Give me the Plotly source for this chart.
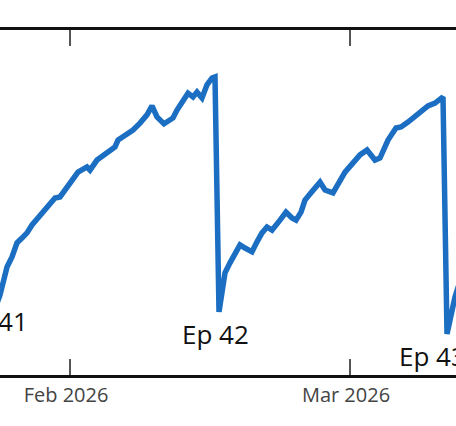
import plotly.graph_objects as go

# Timestamps and values (arbitrary 0-100 scale)
times = [
    "2026-01-24 10:00", "2026-01-24 17:00",
    "2026-01-25 00:00", "2026-01-25 07:12", "2026-01-25 16:48", "2026-01-26 04:48",
    "2026-01-26 16:48", "2026-01-27 04:48", "2026-01-27 16:48", "2026-01-28 04:48",
    "2026-01-29 00:00", "2026-01-29 12:00", "2026-01-30 00:00", "2026-01-30 12:00",
    "2026-01-31 00:00", "2026-01-31 16:48", "2026-02-01 04:48", "2026-02-01 19:12",
    "2026-02-02 16:48", "2026-02-03 00:00", "2026-02-03 16:48", "2026-02-04 16:48",
    "2026-02-05 12:00", "2026-02-05 19:12", "2026-02-07 00:00", "2026-02-07 07:12",
    "2026-02-08 00:00", "2026-02-08 16:48", "2026-02-09 04:48", "2026-02-09 16:48",
    "2026-02-10 09:36", "2026-02-11 07:12", "2026-02-11 16:48", "2026-02-12 19:12",
    "2026-02-13 07:12", "2026-02-13 16:48", "2026-02-14 04:48", "2026-02-14 16:48",
    "2026-02-15 04:48", "2026-02-15 12:00", "2026-02-15 21:36",
    "2026-02-16 04:48", "2026-02-16 12:00", "2026-02-17 00:00", "2026-02-17 12:00",
    "2026-02-18 00:00", "2026-02-18 12:00", "2026-02-19 04:48", "2026-02-19 16:48",
    "2026-02-20 04:48", "2026-02-20 16:48", "2026-02-21 04:48", "2026-02-22 00:00",
    "2026-02-22 14:24", "2026-02-23 04:48", "2026-02-23 14:24", "2026-02-24 02:24",
    "2026-02-24 12:00", "2026-02-25 02:24", "2026-02-26 00:00", "2026-02-26 12:00",
    "2026-02-27 07:12", "2026-02-28 12:00", "2026-03-01 07:12", "2026-03-02 00:00",
    "2026-03-02 16:48", "2026-03-03 12:00", "2026-03-04 00:00", "2026-03-04 19:12",
    "2026-03-05 14:24", "2026-03-06 02:24", "2026-03-06 19:12", "2026-03-07 19:12",
    "2026-03-08 19:12", "2026-03-09 12:00", "2026-03-10 07:12", "2026-03-10 16:48",
    "2026-03-11 12:00", "2026-03-12 04:48", "2026-03-13 00:00",
]
values = [
    85.5, 20.9,
    23.2, 26.7, 31.3, 34.2,
    38.3, 39.7, 41.2, 43.5,
    46.4, 47.8, 50.1, 51.3,
    51.6, 54.5, 56.5, 58.8,
    60.3, 59.4, 62.3, 64.3,
    66.1, 68.1, 70.4, 71.0,
    73.0, 75.4, 78.0, 74.8,
    72.8, 74.5, 76.8, 81.7,
    80.6, 82.0, 80.3, 84.1,
    86.1, 86.4, 18.3,
    24.6, 29.6, 32.5, 35.4,
    37.7, 36.8, 35.7, 38.6,
    41.2, 42.9, 42.0, 44.9,
    47.2, 45.5, 44.9, 47.2,
    50.7, 52.8, 55.9, 53.6,
    52.8, 58.8, 61.4, 63.8,
    65.2, 62.3, 62.9, 68.1,
    71.6, 71.9, 73.3, 75.9,
    78.0, 78.8, 80.6, 11.9,
    22.6, 29.0, 33.9,
]

# Episode labels (anchored at a visible point: right edge, centre, left edge)
ep_labels = ["Ep 41", "Ep 42", "Ep 43"]
ep_times = ["2026-01-28 00:00", "2026-02-15 12:00", "2026-03-05 16:48"]
ep_values = [22.0, 18.3, 11.9]
ep_anchor = ["right", "center", "left"]

tick_vals = ["2026-02-01", "2026-03-01"]
tick_text = ["Feb 2026", "Mar 2026"]
x_range = ["2026-01-25 00:00", "2026-03-11 14:24"]

fig = go.Figure()
fig.add_trace(go.Scatter(
    x=times, y=values, mode="lines",
    line=dict(color="#1b6ec2", width=5.5),
    hoverinfo="skip", showlegend=False,
))

for t, v, lab, anc in zip(ep_times, ep_values, ep_labels, ep_anchor):
    fig.add_annotation(
        x=t, y=v, text=lab, showarrow=False,
        xanchor=anc, yanchor="top", yshift=-2,
        font=dict(family="Open Sans", size=26, color="#111111"),
    )

fig.update_layout(
    width=456, height=426,
    margin=dict(l=0, r=0, t=30, b=51),
    paper_bgcolor="white", plot_bgcolor="white",
    font=dict(family="Open Sans"),
    xaxis=dict(
        range=x_range, type="date",
        tickvals=tick_vals, ticktext=tick_text,
        ticks="inside", ticklen=16, tickwidth=1.5, tickcolor="#555555",
        showline=True, linecolor="#111111", linewidth=2.5, mirror="ticks",
        showgrid=False, zeroline=False, ticklabelshift=-4,
        tickfont=dict(family="Open Sans", size=20, color="#444444"),
    ),
    yaxis=dict(
        range=[0, 100], visible=False, showgrid=False, zeroline=False,
    ),
)

fig.write_html("out.html")
